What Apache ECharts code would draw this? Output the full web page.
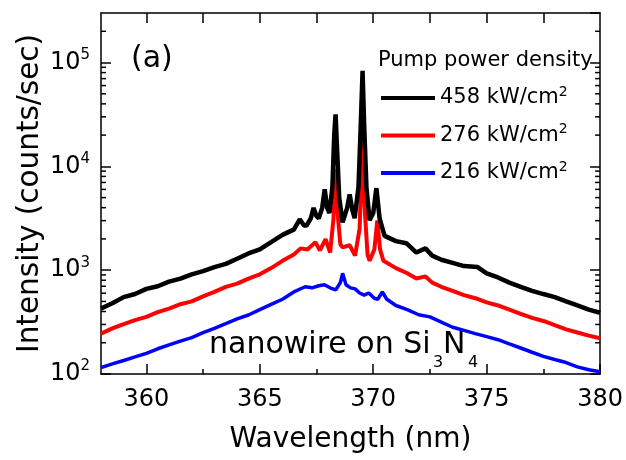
<!DOCTYPE html>
<html>
<head>
<meta charset="utf-8">
<script src="https://cdn.jsdelivr.net/npm/echarts@6/dist/echarts.min.js"></script>
<style>
  html, body { margin: 0; padding: 0; background: #fff; }
  #chart { width: 626px; height: 460px; }
</style>
</head>
<body>
<div id="chart"></div>
<script>
// spectra (wavelength in nm, intensity in counts/sec)
const wl458 = [358, 358.5, 359, 359.5, 360, 360.5, 361, 361.5, 362, 362.5, 363, 363.5, 364, 364.5, 365, 365.5, 366, 366.3, 366.5,
  366.76, 366.95, 367.06, 367.25, 367.37, 367.5, 367.6, 367.75, 367.86, 367.97, 368.07, 368.2, 368.28, 368.34, 368.4, 368.5,
  368.65, 368.85, 368.96, 369.08, 369.18, 369.35, 369.45, 369.53, 369.6, 369.7, 369.84, 370.0, 370.14, 370.28, 370.5,
  371, 371.46, 371.9, 372.3, 372.6, 373, 373.5, 374, 374.6, 375, 375.5, 376, 376.5, 377, 377.5, 378, 378.5, 379, 379.5, 380];
const int458 = [427, 480, 550, 590, 661, 700, 776, 830, 912, 980, 1072, 1150, 1288, 1450, 1585, 1862, 2188, 2350, 2455,
  3090, 2692, 2692, 3162, 3981, 3311, 3162, 3981, 6026, 3981, 3548, 6310, 19950, 31620, 15850, 5012,
  2884, 3981, 5370, 3802, 3162, 6310, 25120, 83180, 25120, 6310, 3020, 3548, 6166, 3162, 2138,
  1905, 1820, 1479, 1622, 1380, 1259, 1175, 1096, 1072, 933, 851, 759, 692, 631, 589, 550, 501, 457, 417, 389];

const wl276 = [358, 358.5, 359, 359.5, 360, 360.5, 361, 361.5, 362, 362.5, 363, 363.5, 364, 364.5, 365, 365.5, 366, 366.5,
  366.8, 367.1, 367.45, 367.65, 367.9, 368.1, 368.25, 368.34, 368.45, 368.55, 368.65, 368.96, 369.2, 369.4, 369.53,
  369.62, 369.75, 369.84, 370.05, 370.18, 370.3, 370.45, 371, 371.5, 371.9, 372.3, 372.6, 373, 373.5, 374, 374.5,
  375, 375.5, 376, 376.5, 377, 377.5, 378, 378.5, 379, 379.5, 380];
const int276 = [245, 275, 302, 330, 355, 395, 427, 470, 501, 560, 617, 690, 741, 830, 912, 1047, 1230, 1413,
  1622, 1585, 1862, 1549, 1995, 1479, 3162, 9441, 3162, 1778, 1660, 1738, 1380, 2512, 19950,
  3981, 1413, 1230, 1585, 3020, 1585, 1230, 1047, 933, 832, 871, 759, 692, 631, 575, 537,
  490, 457, 417, 380, 347, 324, 295, 269, 251, 234, 221];

const wl216 = [358, 358.5, 359, 359.5, 360, 360.5, 361, 361.5, 362, 362.5, 363, 363.5, 364, 364.5, 365, 365.5, 366, 366.5,
  367.0, 367.3, 367.6, 367.85, 368.1, 368.35, 368.55, 368.65, 368.8, 369.0, 369.2, 369.4, 369.6, 369.8, 370.05, 370.2,
  370.4, 370.6, 371, 371.5, 372, 372.5, 373, 373.5, 374, 374.5, 375, 375.5, 376, 376.5, 377, 377.5, 378, 378.5, 379, 379.5, 380];
const int216 = [115, 125, 135, 146, 158, 175, 191, 207, 224, 250, 275, 305, 339, 370, 417, 468, 525, 617,
  692, 676, 708, 724, 676, 646, 759, 933, 724, 676, 661, 603, 575, 603, 537, 525,
  617, 525, 457, 417, 372, 355, 316, 282, 263, 245, 229, 214, 195, 178, 162, 148, 138, 129, 117, 110, 105];

const seriesNames = ['458 kW/cm²', '276 kW/cm²', '216 kW/cm²'];
const seriesColors = ['#000000', '#ff0000', '#0000ff'];

// ticks
const xLabels = [360, 365, 370, 375, 380];
const xMinorTicks = [362.5, 367.5, 372.5, 377.5];
const xTopTicks = [360, 362.5, 365, 367.5, 370, 372.5, 375, 377.5];
const yMinorTicks = [200, 300, 400, 500, 600, 700, 800, 900,
  2000, 3000, 4000, 5000, 6000, 7000, 8000, 9000,
  20000, 30000, 40000, 50000, 60000, 70000, 80000, 90000, 200000];

const FONT = 'DejaVu Sans, sans-serif';
const X_MIN = 358, X_MAX = 380, Y_MIN = 100, Y_MAX = 300000;

const zip = (xs, ys) => xs.map((x, i) => [x, ys[i]]);

const chart = echarts.init(document.getElementById('chart'));

const lineSeries = (name, color, xs, ys, w, z) => ({
  name: name,
  type: 'line',
  data: zip(xs, ys),
  showSymbol: false,
  symbol: 'none',
  lineStyle: { color: color, width: w },
  itemStyle: { color: color },
  z: z,
  animation: false
});

const option = {
  animation: false,
  textStyle: { fontFamily: FONT },
  grid: { left: 101, right: 25, top: 13, bottom: 86 },
  xAxis: [
    {
      type: 'value', min: X_MIN, max: X_MAX, position: 'bottom',
      name: 'Wavelength (nm)', nameLocation: 'middle', nameGap: 52,
      nameTextStyle: { fontSize: 28, color: '#000', fontFamily: FONT },
      axisLine: { onZero: false, lineStyle: { color: '#000', width: 1.5 } },
      axisTick: { inside: true, length: 10, customValues: xLabels, lineStyle: { color: '#000', width: 1.5 } },
      axisLabel: { customValues: xLabels, fontSize: 24, color: '#000', margin: 14, fontFamily: FONT },
      splitLine: { show: false }
    },
    {
      type: 'value', min: X_MIN, max: X_MAX, position: 'bottom',
      axisLine: { show: false, onZero: false },
      axisTick: { inside: true, length: 5, customValues: xMinorTicks, lineStyle: { color: '#000', width: 1.5 } },
      axisLabel: { show: false },
      splitLine: { show: false }
    },
    {
      type: 'value', min: X_MIN, max: X_MAX, position: 'top',
      axisLine: { onZero: false, lineStyle: { color: '#000', width: 1.5 } },
      axisTick: { inside: true, length: 10, customValues: xTopTicks, lineStyle: { color: '#000', width: 1.5 } },
      axisLabel: { show: false },
      splitLine: { show: false }
    }
  ],
  yAxis: [
    {
      type: 'log', min: Y_MIN, max: Y_MAX, position: 'left',
      name: 'Intensity (counts/sec)', nameLocation: 'middle', nameGap: 56,
      nameMoveOverlap: false,
      nameTextStyle: { fontSize: 29.5, color: '#000', fontFamily: FONT },
      axisLine: { onZero: false, lineStyle: { color: '#000', width: 1.5 } },
      axisTick: { inside: true, length: 10, lineStyle: { color: '#000', width: 1.5 } },
      axisLabel: {
        margin: 11, showMaxLabel: false,
        formatter: v => '{b|10}{s|' + Math.round(Math.log10(v)) + '}',
        rich: {
          b: { fontSize: 24, color: '#000', lineHeight: 30, fontFamily: FONT },
          s: { fontSize: 15, color: '#000', lineHeight: 16, verticalAlign: 'top', fontFamily: FONT }
        }
      },
      splitLine: { show: false }
    },
    {
      type: 'log', min: Y_MIN, max: Y_MAX, position: 'right',
      axisLine: { onZero: false, lineStyle: { color: '#000', width: 1.5 } },
      axisTick: { inside: true, length: 10, lineStyle: { color: '#000', width: 1.5 } },
      axisLabel: { show: false },
      splitLine: { show: false }
    }
  ],
  legend: {
    orient: 'vertical',
    left: 376, top: 80,
    itemWidth: 54, itemHeight: 4,
    itemGap: 14,
    icon: 'rect',
    data: seriesNames,
    formatter: name => '{n|' + name.replace('²', '') + '}{s|2}',
    textStyle: {
      rich: {
        n: { fontSize: 21, color: '#000', lineHeight: 26, fontFamily: FONT },
        s: { fontSize: 14, color: '#000', lineHeight: 14, verticalAlign: 'top', fontFamily: FONT }
      }
    }
  },
  graphic: [
    { type: 'text', left: 131, top: 44, style: { text: '(a)', fontSize: 30, fill: '#000', fontFamily: FONT } },
    { type: 'text', left: 378, top: 50, style: { text: 'Pump power density', fontSize: 21, fill: '#000', fontFamily: FONT } },
    { type: 'text', left: 209, top: 330, style: { text: 'nanowire on Si', fontSize: 30, fill: '#000', fontFamily: FONT } },
    { type: 'text', left: 433, top: 355, style: { text: '3', fontSize: 16, fill: '#000', fontFamily: FONT } },
    { type: 'text', left: 443, top: 330, style: { text: 'N', fontSize: 30, fill: '#000', fontFamily: FONT } },
    { type: 'text', left: 468, top: 355, style: { text: '4', fontSize: 16, fill: '#000', fontFamily: FONT } }
  ],
  series: [
    lineSeries(seriesNames[2], seriesColors[2], wl216, int216, 3.5, 3),
    lineSeries(seriesNames[1], seriesColors[1], wl276, int276, 4, 4),
    lineSeries(seriesNames[0], seriesColors[0], wl458, int458, 4.5, 5),
    {
      type: 'custom',
      silent: true,
      clip: false,
      z: 10,
      data: yMinorTicks.map(v => [X_MIN, v]),
      renderItem: (params, api) => {
        const v = api.value(1);
        const pl = api.coord([X_MIN, v]);
        const pr = api.coord([X_MAX, v]);
        const st = { stroke: '#000', lineWidth: 1.5 };
        return {
          type: 'group',
          children: [
            { type: 'line', shape: { x1: pl[0], y1: pl[1], x2: pl[0] + 5, y2: pl[1] }, style: st },
            { type: 'line', shape: { x1: pr[0], y1: pr[1], x2: pr[0] - 5, y2: pr[1] }, style: st }
          ]
        };
      }
    }
  ]
};

chart.setOption(option);
</script>
</body>
</html>
